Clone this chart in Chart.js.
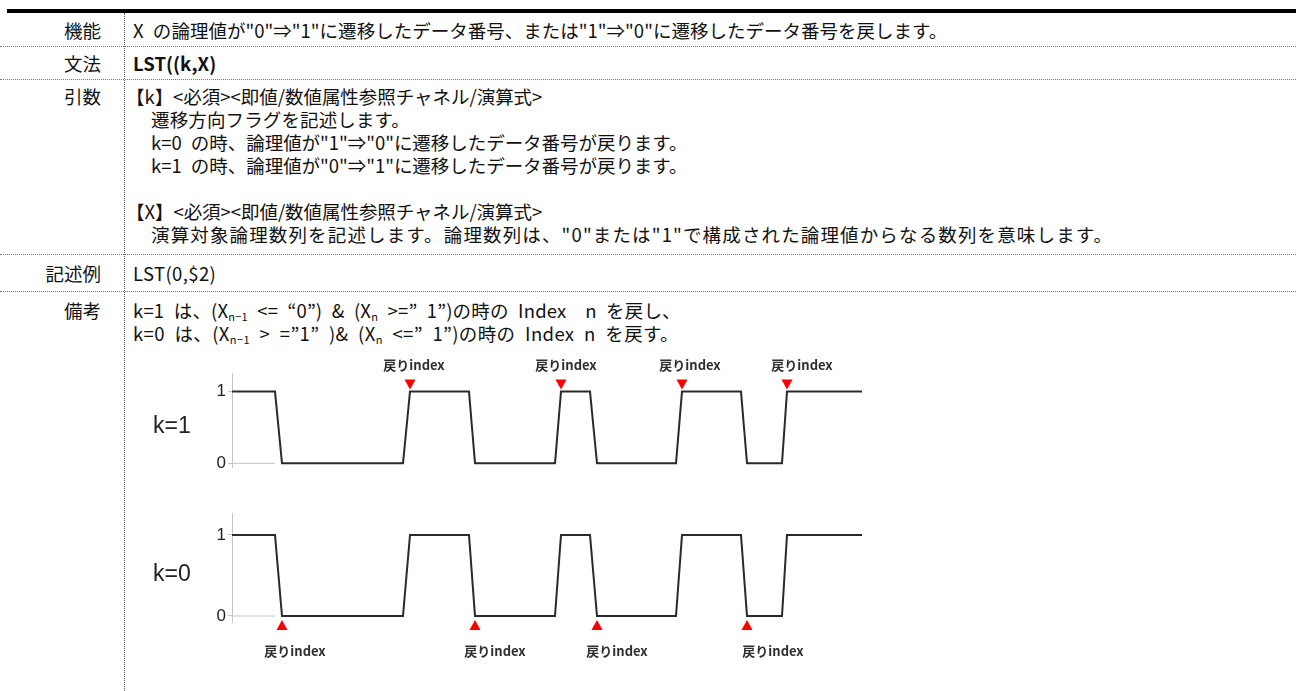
<!DOCTYPE html>
<html><head><meta charset="utf-8">
<script src="https://cdn.jsdelivr.net/npm/chart.js@4.4.1/dist/chart.umd.min.js"></script>
<style>
html,body{margin:0;padding:0;background:#fff;}
body{width:1296px;height:691px;position:relative;overflow:hidden;font-family:"Noto Sans CJK JP","Noto Sans",sans-serif;font-size:18.5px;color:#111;}
.thick{position:absolute;left:7px;right:0;top:9px;height:4px;background:#000;}
.hd{position:absolute;left:0;right:0;height:0;border-top:1px dotted #777;}
.vd{position:absolute;left:124px;top:13px;bottom:0;width:0;border-left:1px dotted #555;}
.lab{position:absolute;left:0;width:101px;text-align:right;height:24px;line-height:24px;white-space:nowrap;}
.t{position:absolute;height:24px;line-height:24px;white-space:nowrap;}
.b{font-weight:bold;}
sub{font-size:11px;vertical-align:-3px;line-height:0;}
.cw{position:absolute;}
</style></head><body>
<div class="thick"></div>
<div class="vd"></div>

<div class="lab" style="top:18px">機能</div>
<div class="t fit" style="left:133px;top:18px">X の論理値が"0"⇒"1"に遷移したデータ番号、または"1"⇒"0"に遷移したデータ番号を戻します。</div>
<div class="hd" style="top:46px"></div>

<div class="lab" style="top:51px">文法</div>
<div class="t b fit" style="left:133px;top:51px">LST((k,X)</div>
<div class="hd" style="top:79px"></div>

<div class="lab" style="top:84px">引数</div>
<div class="t fit" style="left:126px;top:84px">【k】&lt;必須&gt;&lt;即値/数値属性参照チャネル/演算式&gt;</div>
<div class="t fit" style="left:151px;top:107px">遷移方向フラグを記述します。</div>
<div class="t fit" style="left:151px;top:130px">k=0 の時、論理値が"1"⇒"0"に遷移したデータ番号が戻ります。</div>
<div class="t fit" style="left:151px;top:153px">k=1 の時、論理値が"0"⇒"1"に遷移したデータ番号が戻ります。</div>
<div class="t fit" style="left:126px;top:199px">【X】&lt;必須&gt;&lt;即値/数値属性参照チャネル/演算式&gt;</div>
<div class="t fit" data-em="52" style="left:151px;top:222px">演算対象論理数列を記述します。論理数列は、"0"または"1"で構成された論理値からなる数列を意味します。</div>
<div class="hd" style="top:254px"></div>

<div class="lab" style="top:261px">記述例</div>
<div class="t fit" style="left:133px;top:261px">LST(0,$2)</div>
<div class="hd" style="top:291px"></div>

<div class="lab" style="top:298px">備考</div>
<div class="t fit" data-em="29.6" style="left:133px;top:298px">k=1 は、(X<sub>n−1</sub> &lt;= “0”) &amp; (X<sub>n</sub> &gt;=” 1”)の時の Index　n を戻し、</div>
<div class="t fit" data-em="29.5" style="left:133px;top:321px">k=0 は、(X<sub>n−1</sub> &gt; =”1” )&amp; (X<sub>n</sub> &lt;=” 1”)の時の Index n を戻す。</div>

<div class="cw" style="left:130px;top:350px;width:760px;height:130px"><canvas id="chartK1"></canvas></div>
<div class="cw" style="left:130px;top:490px;width:760px;height:201px"><canvas id="chartK0"></canvas></div>

<script>
// ---- data ----
const waveX      = [0, 43, 50, 171, 178, 237, 243, 323, 329, 358, 365, 444, 450, 509, 515, 550, 555, 630];
const waveK1     = [1, 1, 0, 0, 1, 1, 0, 0, 1, 1, 0, 0, 1, 1, 0, 0, 1, 1];
const waveK0     = [1, 1, 0, 0, 1, 1, 0, 0, 1, 1, 0, 0, 1, 1, 0, 0, 1, 1];
const stubX      = [0, 43];
const stubY      = [0, 0];
const returnsK1  = [178, 329, 450, 555];
const returnsK0  = [50, 243, 365, 515];
const labelXK1   = [182, 334, 458, 570];
const labelXK0   = [63, 263, 385, 541];
const yTickVals  = [0, 1];
const returnText = '戻りindex';
const sideK1     = 'k=1';
const sideK0     = 'k=0';

// emulate half/full-width (monospaced Japanese gothic) line lengths
function monoWidth(el) {
  let w = 0, n = 0, s = 0;
  el.childNodes.forEach(node => {
    if (node.nodeType === 3) {
      const fs = parseFloat(getComputedStyle(node.parentElement).fontSize);
      for (const ch of node.textContent) { w += (ch.codePointAt(0) >= 0x2000 ? 1 : 0.5) * fs; n++; if (ch === ' ') s++; }
    } else if (node.nodeType === 1) {
      const r = monoWidth(node); w += r.w; n += r.n; s += r.s;
    }
  });
  return {w, n, s};
}
const mctx = document.createElement('canvas').getContext('2d');
document.querySelectorAll('.fit').forEach(el => {
  const cs = getComputedStyle(el);
  const fs = parseFloat(cs.fontSize);
  let {w, n, s} = monoWidth(el);
  if (el.dataset.em) w = parseFloat(el.dataset.em) * fs;
  mctx.font = cs.fontWeight + ' ' + cs.fontSize + ' ' + cs.fontFamily;
  const spaceW = mctx.measureText(' ').width;
  if (s > 0) el.style.wordSpacing = Math.max(0, fs / 2 - spaceW).toFixed(2) + 'px';
  const nat = el.getBoundingClientRect().width;
  if (n > 0) el.style.letterSpacing = ((w - nat) / n).toFixed(2) + 'px';
});

const overlay = {
  id: 'overlay',
  afterDatasetsDraw(chart, args, o) {
    const {ctx} = chart, xs = chart.scales.x, ys = chart.scales.y;
    ctx.save();
    ctx.font = '23px "Liberation Sans", Arial, sans-serif';
    ctx.fillStyle = '#222';
    ctx.textAlign = 'left';
    ctx.textBaseline = 'middle';
    ctx.fillText(o.side, chart.chartArea.left - 79, (ys.getPixelForValue(0) + ys.getPixelForValue(1)) / 2 - 1);
    ctx.fillStyle = '#ff0000';
    o.returns.forEach(v => {
      const px = xs.getPixelForValue(v);
      const py = ys.getPixelForValue(o.level);
      ctx.beginPath();
      if (o.dir === 'down') {
        ctx.moveTo(px - 5.5, py - 12); ctx.lineTo(px + 5.5, py - 12); ctx.lineTo(px, py - 2);
      } else {
        ctx.moveTo(px - 5.5, py + 14); ctx.lineTo(px + 5.5, py + 14); ctx.lineTo(px, py + 4);
      }
      ctx.closePath(); ctx.fill();
    });
    ctx.font = 'bold 13px "Noto Sans CJK JP", sans-serif';
    ctx.fillStyle = '#2e2e2e';
    ctx.textAlign = 'center';
    o.labels.forEach(v => {
      const px = xs.getPixelForValue(v);
      const py = ys.getPixelForValue(o.level) + (o.dir === 'down' ? -27 : 35);
      ctx.fillText(returnText, px, py);
    });
    ctx.restore();
  }
};

function makeChart(id, wave, side, returns, labels, level, dir, yMin, yMax, pad) {
  return new Chart(document.getElementById(id), {
    type: 'line',
    data: {
      datasets: [
        { data: waveX.map((x, i) => ({x, y: wave[i]})), borderColor: '#2a2a2a', borderWidth: 2, pointRadius: 0, tension: 0, order: 1 },
        { data: stubX.map((x, i) => ({x, y: stubY[i]})), borderColor: '#c4c4c4', borderWidth: 1, pointRadius: 0, tension: 0, order: 2 }
      ]
    },
    options: {
      responsive: true, maintainAspectRatio: false, animation: false,
      layout: { padding: pad },
      plugins: { legend: {display: false}, tooltip: {enabled: false},
        overlay: { side, returns, labels, level, dir } },
      scales: {
        x: { type: 'linear', min: 0, max: 630, display: false },
        y: { type: 'linear', min: yMin, max: yMax,
          afterBuildTicks: s => { s.ticks = yTickVals.map(v => ({value: v})); },
          afterFit: s => { s.width = 40; },
          border: { display: true, color: '#c4c4c4', width: 1 },
          grid: { drawOnChartArea: false, drawTicks: true, tickLength: 4, color: '#c4c4c4' },
          ticks: { color: '#222', padding: 2, font: { family: '"Liberation Sans", Arial, sans-serif', size: 17 } }
        }
      }
    },
    plugins: [overlay]
  });
}

makeChart('chartK1', waveK1, sideK1, returnsK1, labelXK1, 1, 'down', -0.062, 1.259, {top: 23, bottom: 0, left: 62, right: 28});
makeChart('chartK0', waveK0, sideK0, returnsK0, labelXK0, 0, 'up', -0.074, 1.27, {top: 23, bottom: 69, left: 62, right: 28});
</script>
</body></html>
